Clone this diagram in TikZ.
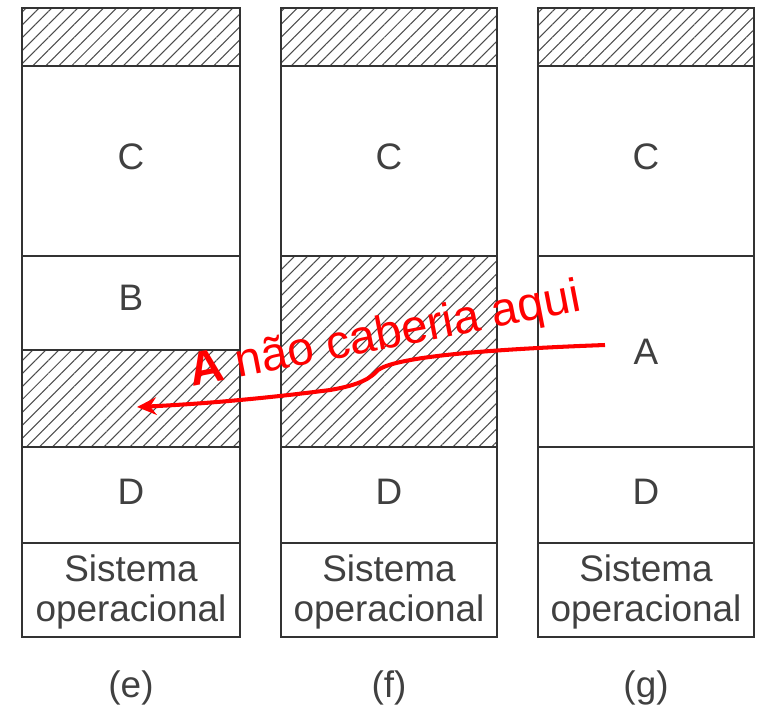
\documentclass[tikz,border=0pt]{standalone}
\usepackage{fontspec}
\setmainfont{Liberation Sans}
\usetikzlibrary{patterns.meta,arrows.meta}
\tikzset{
  cell/.style={draw=black!80,line width=1.2pt},
  hatch/.style={cell,pattern={Lines[angle=45,distance=5.2pt,line width=0.6pt]},pattern color=black!70},
  lbl/.style={text=black!75,font=\fontsize{21}{23}\selectfont,align=center},
  note/.style={text=red,font=\fontsize{27}{27}\selectfont}
}
\begin{document}
\begin{tikzpicture}[x=0.02cm,y=-0.02cm]
\useasboundingbox (0,0) rectangle (759,706);
% (e)
\draw [hatch] (22,8) rectangle (240,66);
\draw [cell] (22,66) rectangle (240,256);
\draw [cell] (22,256) rectangle (240,350);
\draw [hatch] (22,350) rectangle (240,447);
\draw [cell] (22,447) rectangle (240,543);
\draw [cell] (22,543) rectangle (240,637);
\node [lbl] (eC) at (131,157) {C};
\node [lbl] (eB) at (131,298) {B};
\node [lbl] (eD) at (131,492) {D};
\node [lbl] (eSO) at (131,592) {Sistema\\operacional};
\node [lbl] (eTag) at (131,688) {(e)};
% (f)
\draw [hatch] (281,8) rectangle (497,66);
\draw [cell] (281,66) rectangle (497,256);
\draw [hatch] (281,256) rectangle (497,447);
\draw [cell] (281,447) rectangle (497,543);
\draw [cell] (281,543) rectangle (497,637);
\node [lbl] (fC) at (389,157) {C};
\node [lbl] (fD) at (389,492) {D};
\node [lbl] (fSO) at (389,592) {Sistema\\operacional};
\node [lbl] (fTag) at (389,688) {(f)};
% (g)
\draw [hatch] (538,8) rectangle (754,66);
\draw [cell] (538,66) rectangle (754,256);
\draw [cell] (538,256) rectangle (754,447);
\draw [cell] (538,447) rectangle (754,543);
\draw [cell] (538,543) rectangle (754,637);
\node [lbl] (gC) at (646,157) {C};
\node [lbl] (gA) at (646,352) {A};
\node [lbl] (gD) at (646,492) {D};
\node [lbl] (gSO) at (646,592) {Sistema\\operacional};
\node [lbl] (gTag) at (646,688) {(g)};
% nota
\node [note,rotate=11,anchor=base west] (nota) at (186,388) {\textbf{A} não caberia aqui};
\coordinate (from) at (605,345);
\coordinate (to) at (137,407);
\draw [red,line width=2.3pt,-{Stealth[length=11pt,width=10pt]}] (from) .. controls (470,350) and (395,358) .. (378,370) .. controls (371,378) and (360,385) .. (330,390) .. controls (260,399) and (200,404) .. (to);
\end{tikzpicture}
\end{document}
